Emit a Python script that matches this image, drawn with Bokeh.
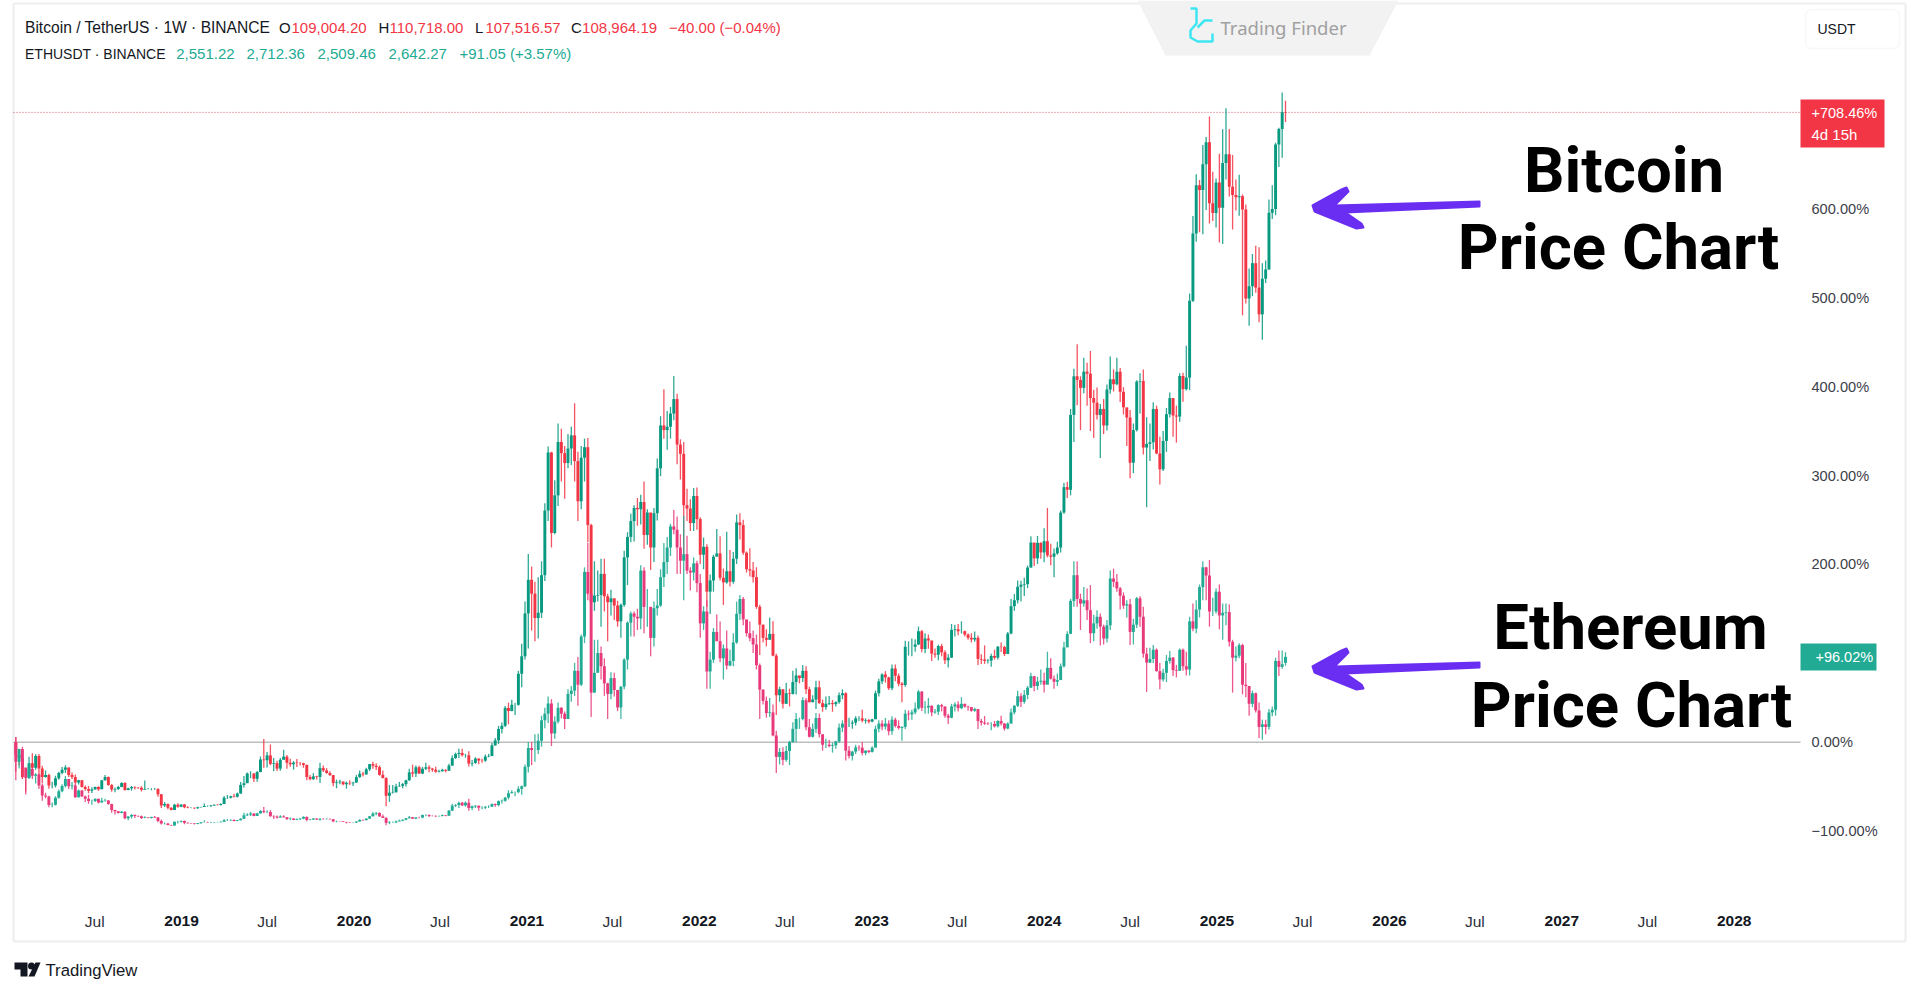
from datetime import date
from bokeh.core.properties import value
from bokeh.embed import file_html
from bokeh.resources import INLINE
from bokeh.plotting import figure
from bokeh.models import (BoxAnnotation, ColumnDataSource, FixedTicker, LinearAxis, Range1d)

# ---------- chart text ----------
title_btc = ["Bitcoin / TetherUS · 1W · BINANCE"]
legend_btc_o = "109,004.20"
legend_btc_h = "110,718.00"
legend_btc_l = "107,516.57"
legend_btc_c = "108,964.19"
legend_btc_chg = "−40.00 (−0.04%)"
title_eth = "ETHUSDT · BINANCE"
legend_eth_vals = ["2,551.22", "2,712.36", "2,509.46", "2,642.27", "+91.05 (+3.57%)"]

year_labels = ["2019", "2020", "2021", "2022", "2023", "2024", "2025", "2026", "2027", "2028"]
year_ticks = ["2019-01-01", "2020-01-01", "2021-01-01", "2022-01-01", "2023-01-01",
              "2024-01-01", "2025-01-01", "2026-01-01", "2027-01-01", "2028-01-01"]
jul_ticks = ["2018-07-01", "2019-07-01", "2020-07-01", "2021-07-01", "2022-07-01",
             "2023-07-01", "2024-07-01", "2025-07-01", "2026-07-01", "2027-07-01"]
pct_ticks = [-100, 0, 200, 300, 400, 500, 600]
pct_labels = ["−100.00%", "0.00%", "200.00%", "300.00%", "400.00%", "500.00%", "600.00%"]

# ---------- weekly candles: first week starts 2018-01-15 ----------
first_week = date(2018, 1, 15)
btc_base = 13478.0
eth_base = 1348.0
btc_last_open = 109004.20
eth_last_open = 2551.22

btc_close = [
 11530,11100,8200,8100,10300,9600,11400,9500,8200,8500,6900,6900,8000,8800,9300,9650,8500,8200,7350,7700,6700,6400,6100,6300,6700,6350,7700,8200,7000,6300,6400,6700,7300,6250,6490,6700,6600,6570,6280,6400,6400,6400,6400,5600,3900,4100,3550,3200,4000,3700,
 4050,3620,3530,3540,3460,3630,3670,3810,3810,3900,4000,3970,4100,5060,5060,5300,5200,5700,7000,7260,8720,8740,7930,8950,10850,10750,11480,10190,10300,9480,10810,11290,10350,10130,10380,10310,10300,10030,8200,7870,8300,8210,9550,9200,8810,8500,7300,7400,7500,7100,7320,7250,7350,
 8180,8700,8600,9370,10150,9900,9700,8530,8040,5360,5820,5880,6770,6860,7120,7700,8900,8720,9680,8720,9450,9670,9470,9300,9000,9070,9300,9160,9930,11070,11680,11850,11500,11500,10250,10330,11000,10700,10680,11300,11370,13000,13760,15480,15960,18680,18200,19150,19150,23860,26500,33000,
 38100,36000,32300,33100,38800,48600,57400,45200,50900,59000,57300,55800,58000,60000,56100,50000,56600,58200,46400,34700,35700,35800,39000,35600,34700,35300,34200,31800,34300,41500,44600,47000,49000,48800,49900,44900,48300,43000,48200,55000,61500,60800,61300,63300,65500,58600,57200,49400,48900,46700,50800,47300,
 41900,43100,36300,38000,41600,42100,38400,37700,39400,37800,41300,46800,46400,42200,39700,39500,38500,34000,31300,29300,29000,29900,26600,20600,21500,19300,20900,20800,22600,23600,23200,24300,21500,19550,19950,21800,19400,18800,19300,19400,19250,19550,20600,20900,16300,16300,16450,17100,17100,16750,16840,16600,
 16950,20900,22700,23750,23300,21650,24650,23550,22350,22150,27950,27950,27950,28300,30300,27600,29200,28900,26900,26750,28050,27100,25900,26300,30500,30600,30300,30300,29800,29300,29050,29300,26100,26000,25800,25850,26550,26300,27950,27900,26850,29950,34100,35000,37050,37350,37450,39950,43750,41350,43700,42250,
 43950,41800,41600,42100,43000,48300,52150,51750,63100,68950,68400,67200,69650,69350,65650,64950,63100,64000,61500,66950,68500,67750,69650,66600,64250,62700,55850,60800,68150,68250,58150,58700,58950,64000,57250,54850,59150,63200,65650,63000,62850,69000,67000,68750,80400,90600,97900,97200,101100,104450,95200,93700,98350,
 94500,101300,102600,97700,96450,96100,96250,94250,80750,82600,86100,82400,78350,83750,85150,93750,94300,104100,106450,109000,108964.19,
]
btc_high = [
 14249,12244,11700,9000,11274,11800,11700,11700,9900,9177,8700,7500,8400,9000,9700,9990,9660,8900,8580,7780,7750,6900,6830,6650,6780,6800,7700,8500,8270,7150,6600,6890,7400,7400,6580,6850,6790,6680,6800,7680,6520,6500,6540,6480,5620,4400,4180,3620,4130,4235,
 4080,4100,3750,3620,3570,3700,3700,4200,3900,3950,4020,4080,4240,5340,5470,5370,5650,5840,7450,8370,8900,9070,8820,9100,11300,13970,12000,13130,11100,10650,11080,12330,11530,10950,10620,10920,10480,10360,10100,8490,8800,8400,10370,9940,9550,9080,8500,7800,7800,7530,7520,7700,7500,
 8500,9190,8990,9600,10190,10500,10300,9960,9190,8180,7000,6980,7190,7460,7300,7780,9460,10070,9950,9890,9740,10380,10000,9590,9770,9300,9450,9340,10200,11450,11900,12480,12480,11720,12090,10780,11200,11000,10950,11600,11720,13350,14100,15960,16480,18960,19480,19920,19420,24300,28400,34800,
 42000,40100,37800,38500,40900,49700,58300,57500,53200,61800,61000,58400,60200,61300,64850,57500,58400,59500,59600,46600,40900,39500,41300,41300,36000,36600,35100,34900,34500,42500,45300,48100,49400,50500,51000,53000,48800,47300,49000,56500,62900,67000,63700,64300,69000,66300,59400,59000,51900,50300,52000,52100,
 47600,44500,43500,38900,41900,45800,44700,39800,45400,42600,42300,48000,48200,47200,42400,42900,40800,40000,34300,31300,30600,32400,31800,26900,21900,21500,22500,21600,24300,24700,23500,25200,25000,21900,20600,22800,22800,19950,20400,20500,19900,19700,21000,21500,21050,17200,16800,17400,17400,18400,17100,17000,
 17050,21300,23100,23950,24250,23400,25250,25250,23900,22600,28850,28750,29200,29100,31000,30500,30000,29800,28300,27700,28250,28400,27400,26800,31400,31300,31400,31800,30400,29950,30000,30250,29650,26800,28150,26100,26900,27500,28050,28600,28100,30200,35200,35950,38000,37950,38400,40250,44700,43450,44750,43800,
 45900,49000,43550,42850,43850,48600,52800,52950,64000,70100,73800,68950,71750,71000,72800,66900,67250,64750,65500,67700,71950,70000,71750,70200,67300,63350,63850,61800,68350,69400,70000,62750,61800,65000,64500,59800,60650,64150,66500,65550,64500,69400,69500,73600,81500,93250,99600,98700,104000,105250,108350,99950,98950,
 102700,106400,109600,106450,102500,98800,99500,96500,95000,85300,87500,88750,88500,86100,86500,95750,97900,104350,106650,111980,110718,
]
btc_low = [
 9035,10000,7900,6000,8000,9300,9300,8400,7300,8100,6430,6500,6600,7800,8600,8800,8200,7900,7080,7050,6600,6100,5750,5780,6300,6070,6330,7650,6880,5970,5880,6230,6650,6100,6200,6100,6300,6400,6000,6300,6360,6200,6280,5200,3500,3650,3300,3150,3180,3550,
 3630,3480,3460,3450,3340,3370,3570,3660,3680,3670,3790,3880,3900,4090,4880,4930,5100,5100,5650,6600,7500,8000,7440,7500,8950,9600,9650,10000,9070,9100,9160,10930,9460,9740,9320,9700,9950,9600,7700,7710,7780,7840,7300,8970,8700,8360,6790,6500,7100,6950,6430,7000,6850,
 7350,8100,8270,8530,9120,9460,9280,8400,8000,3780,4440,5690,5860,6750,6500,6750,7630,8200,8200,8700,8630,9270,8910,8980,8830,8900,9050,8900,9130,9900,10950,11100,11300,11130,9800,9850,10200,10140,10370,10530,11200,11400,12950,13200,14800,15800,16200,18180,17600,19000,21800,26000,
 27700,30400,28800,29200,32300,37900,47000,43000,45000,49300,53000,50400,55000,55500,53000,47000,48800,53000,43800,30000,33400,34800,31000,33300,28800,32700,32000,31000,29300,34000,37300,43800,43900,46300,46500,42800,43400,39600,40800,47100,53800,59500,57800,59500,62300,55600,53300,42000,47000,45500,45500,45700,
 40500,39700,34000,32900,36300,41700,38000,34300,37500,37100,37500,40500,44200,41900,39200,38600,37700,33700,26700,28600,28000,29300,26500,17600,19600,18600,19300,18900,20700,20700,22400,22600,20800,19500,19500,18500,19300,18100,18400,19100,18100,18900,19300,20000,15600,15800,15500,16000,16700,16500,16300,16300,
 16500,17100,20400,22300,22500,21400,21350,22700,21950,19550,21900,26600,26500,27200,28200,27100,26950,27650,25800,26300,25900,26500,25350,24800,26250,29500,29700,29950,29500,29000,28600,28700,25200,25350,25350,25400,24900,26000,26000,27150,26550,26950,29850,33400,34500,34800,35650,36850,39950,40200,40500,41300,
 40750,41500,40300,38500,41900,42250,48100,50500,50900,59000,64550,60800,66400,64500,60650,59600,62400,56550,60200,60750,66300,66650,67600,65050,63150,58400,53500,54250,60600,63300,57100,49100,56100,57850,57150,52550,54600,57500,62700,59800,58900,62050,65100,66800,66850,80200,89350,90800,90500,94150,92100,92500,91500,
 89250,89000,98800,96200,91200,94100,93300,78200,80000,76600,81100,81600,77150,74500,83100,85100,92800,93350,100700,102100,107516,
]
eth_close = [
 1050,1245,965,815,940,840,860,690,540,525,395,400,505,605,685,790,680,690,515,615,525,490,455,455,490,435,460,465,410,320,300,275,295,195,220,245,230,225,200,205,200,215,205,155,115,115,93,85,140,140,
 155,125,118,114,107,120,133,136,129,131,133,136,142,165,165,170,155,165,188,240,250,265,230,268,305,290,290,225,220,205,222,210,185,190,170,180,190,215,170,175,190,175,185,182,185,180,148,150,148,140,132,128,130,
 146,170,165,190,225,265,275,225,200,125,130,130,145,158,172,195,210,188,206,205,245,245,230,228,225,228,240,232,310,385,395,430,390,430,350,375,385,355,355,370,370,410,395,455,460,510,575,590,590,640,680,975,
 1260,1230,1230,1370,1680,1780,1935,1480,1660,1870,1780,1700,2080,2130,2430,2220,2950,3930,3600,2100,2400,2700,2500,2240,2080,2320,2140,1875,2190,2600,3160,3300,3250,3225,3950,3400,3400,2930,3380,3420,3850,4080,4300,4620,4570,4300,4100,4200,3950,3920,4060,3760,
 3150,3330,2420,2600,3020,2880,2620,2770,2510,2580,2860,3295,3520,3210,3000,2925,2830,2515,2145,1975,1790,1800,1450,1125,1200,1080,1215,1350,1550,1700,1700,1985,1575,1430,1550,1715,1470,1310,1310,1290,1300,1360,1570,1630,1220,1140,1205,1270,1265,1185,1220,1200,
 1265,1550,1630,1585,1630,1515,1690,1595,1565,1580,1780,1770,1800,1860,2115,1870,1875,1900,1800,1810,1910,1890,1750,1720,1890,1920,1865,1930,1890,1880,1825,1850,1670,1645,1630,1625,1625,1590,1670,1630,1555,1630,1800,1900,2045,1960,2065,2175,2350,2200,2265,2280,
 2220,2475,2310,2265,2290,2500,2785,2990,3490,3880,3520,3450,3500,3350,3000,3150,3250,3100,2920,3120,3830,3780,3680,3570,3420,3440,3020,3130,3530,3250,2690,2555,2610,2750,2425,2300,2400,2580,2630,2440,2430,2750,2500,2450,3180,3070,3360,3700,4000,3875,3330,3330,3630,
 3270,3310,3320,2870,2630,2660,2820,2220,2200,1930,2090,1830,1580,1620,1580,1800,1840,2580,2490,2530,2642.27,
]
eth_high = [
 1425,1250,1280,905,1020,975,880,870,720,580,535,435,530,630,710,835,790,745,715,630,625,540,550,475,495,490,505,490,470,415,325,300,305,300,225,260,250,235,235,225,210,218,230,215,175,130,120,95,145,157,
 160,160,130,123,118,122,137,165,140,140,137,143,145,185,185,178,180,170,195,280,270,290,270,280,320,365,315,320,240,235,240,240,215,205,195,190,195,225,220,185,200,195,198,195,195,190,180,158,155,152,136,135,135,
 150,180,173,190,228,290,290,285,252,210,150,145,160,175,175,200,228,215,210,218,248,255,250,238,240,235,250,245,320,415,410,445,440,450,490,390,395,385,375,375,390,420,420,465,480,515,620,620,600,680,690,1010,
 1350,1350,1470,1475,1750,1870,2040,2000,1740,1950,1880,1815,2150,2200,2550,2640,2980,4000,4370,3600,2900,2900,2800,2620,2250,2410,2400,2100,2200,2620,3180,3330,3330,3370,4030,4000,3670,3400,3480,3670,3970,4370,4460,4660,4870,4770,4500,4780,4480,4000,4150,4100,
 3900,3410,3500,2720,3080,3285,3180,2830,3040,2750,3000,3480,3580,3550,3200,3180,3040,2980,2540,2150,2040,2020,1920,1520,1260,1270,1290,1370,1650,1790,1720,2030,2020,1700,1630,1790,1785,1400,1400,1380,1340,1370,1630,1680,1680,1290,1220,1310,1300,1350,1225,1230,
 1285,1600,1680,1680,1715,1680,1740,1720,1680,1590,1840,1830,1840,1950,2140,2125,1970,2020,1910,1850,1925,1930,1890,1780,1930,1955,1970,2030,1930,1900,1880,1870,1850,1700,1745,1650,1650,1670,1680,1750,1640,1650,1860,1910,2130,2090,2140,2200,2400,2330,2340,2450,
 2400,2720,2620,2360,2390,2540,2870,3030,3520,4090,4090,3600,3700,3680,3730,3280,3350,3300,3130,3200,3950,3980,3900,3700,3620,3500,3520,3220,3550,3560,3400,2780,2780,2820,2770,2550,2460,2670,2730,2640,2520,2770,2770,2720,3250,3450,3500,3740,4090,4010,4110,3540,3680,
 3740,3450,3450,3440,2900,2800,2850,2840,2550,2030,2130,2100,1950,1690,1690,1850,1890,2630,2740,2740,2712,
]
eth_low = [
 772,950,800,555,790,790,720,640,460,500,360,360,390,490,590,660,640,630,505,510,520,440,415,400,440,420,435,445,400,280,250,265,270,180,165,190,200,215,185,195,195,190,200,135,100,100,88,82,83,115,
 130,105,115,110,100,103,117,130,128,122,125,130,130,140,155,155,150,150,160,185,230,230,225,230,265,270,270,220,185,190,205,205,170,165,165,165,170,180,150,165,170,170,158,175,178,175,135,135,144,138,116,122,125,
 126,143,153,163,185,220,242,215,218,90,105,125,125,155,150,165,190,185,180,195,195,225,215,225,215,222,225,225,235,305,365,350,380,370,310,320,350,310,330,335,350,365,370,375,420,445,480,570,530,575,550,665,
 890,1000,1050,1170,1280,1560,1640,1290,1400,1630,1710,1550,1700,1960,2050,1900,2200,2850,3500,1730,2100,2500,2300,2050,1700,2000,2040,1820,1700,2150,2450,2950,2950,3050,3060,3000,3100,2650,2800,3270,3400,3700,3900,4170,4500,3900,3900,3500,3900,3650,3800,3620,
 2930,3050,2160,2160,2550,2880,2560,2300,2450,2500,2500,2840,3200,3120,2950,2880,2700,2450,1700,1920,1720,1730,1440,880,1010,1000,1050,1000,1340,1350,1550,1680,1530,1420,1420,1490,1420,1220,1260,1270,1190,1250,1340,1500,1070,1100,1070,1170,1220,1150,1150,1180,
 1190,1280,1500,1530,1540,1455,1460,1570,1540,1370,1550,1680,1690,1770,1840,1820,1780,1780,1740,1780,1760,1815,1720,1625,1710,1815,1815,1850,1870,1825,1810,1810,1550,1600,1610,1610,1530,1570,1570,1600,1525,1545,1630,1770,1880,1880,1930,2000,2170,2120,2140,2220,
 2100,2240,2300,2160,2200,2290,2480,2850,3000,3400,3400,3050,3400,3200,2850,2880,3070,2815,2830,2860,3050,3700,3630,3360,3370,3240,2820,2830,3080,3100,2630,2110,2550,2550,2420,2150,2270,2260,2540,2350,2330,2440,2430,2360,2360,3030,3000,3240,3500,3500,3100,3260,3300,
 3060,2900,3120,2800,2100,2570,2620,2075,2030,1750,1880,1800,1410,1385,1470,1540,1740,1750,2350,2460,2509,
]
for name, arr in [("btc_close", btc_close), ("btc_high", btc_high), ("btc_low", btc_low),
                  ("eth_close", eth_close), ("eth_high", eth_high), ("eth_low", eth_low)]:
    assert len(arr) == 385, (name, len(arr))

# ---------- scales: px in the 1919x996 picture -> data ----------
WEEK_PX = 3.3065
DAY_PX = WEEK_PX / 7
PCT_PX = 0.889
W, H = 1911, 988
OX, OY = 0, 0
X0_REAL, Y0_REAL = 15.3, 741.7
def px(x):  # picture x -> days since first week
    return (x - X0_REAL) / DAY_PX
def py(y):  # picture y -> percent
    return (Y0_REAL - y) / PCT_PX
def days(s):
    y, m, d = map(int, s.split("-"))
    return (date(y, m, d) - first_week).days

p = figure(width=W, height=H, output_backend="svg", toolbar_location=None,
           x_axis_location=None, y_axis_location=None, min_border=0,
           x_range=Range1d(px(OX), px(OX + W)), y_range=Range1d(py(OY + H), py(OY)),
           outline_line_color=None, background_fill_color="white", border_fill_color="white")
p.grid.visible = False

FONT = "Liberation Sans"
BIG_FONT = "Roboto"
UP_B, DOWN_B, UP_E, DOWN_E = "#089981", "#F23645", "#22AB94", "#E8397A"

def candles(close, high, low, base, last_open, up, down):
    opens = [base] + list(close[:-1])
    opens[-1] = last_open
    pct = lambda v: (v / base - 1) * 100
    return ColumnDataSource(dict(
        x=[7 * i for i in range(len(close))],
        o=[pct(v) for v in opens], c=[pct(v) for v in close],
        h=[pct(v) for v in high], l=[pct(v) for v in low],
        color=[up if c >= o else down for o, c in zip(opens, close)]))

# frame
frame_c = "#eeeeee"
p.multi_line(xs=[[px(13), px(13)], [px(1905), px(1905)], [px(13), px(1905)], [px(13), px(1905)]],
             ys=[[py(3), py(941)], [py(3), py(941)], [py(941), py(941)], [py(3), py(3)]],
             line_color=frame_c, line_width=2)

# watermark panel
p.patch(x=[px(1137), px(1398), px(1369), px(1165)], y=[py(0), py(0), py(55), py(55)],
        fill_color="#f2f2f2", line_color=None)
p.multi_line(xs=[[px(1190), px(1196), px(1196), px(1190), px(1190), px(1197), px(1212), px(1212)],
                 [px(1212), px(1204), px(1197)]],
             ys=[[py(8), py(8), py(23), py(30), py(37), py(41), py(41), py(33)],
                 [py(20), py(20), py(27)]],
             line_color="#3ee6f2", line_width=2.5)

# USDT button
p.add_layout(BoxAnnotation(left=px(1805), right=px(1899), top=py(9), bottom=py(48), fill_color="white",
                           fill_alpha=1, line_color="#e8e8e8", line_width=1.5, border_radius=6,
                           level="underlay"))
# last value and zero lines
p.line(x=[px(13), px(1800)], y=[0, 0], line_color="#bdbdbd", line_width=1.6)
p.line(x=[px(13), px(1800)], y=[708.46, 708.46], line_color="#D8566C", line_width=1, line_dash=[1, 2])

# candles
for src in [candles(btc_close, btc_high, btc_low, btc_base, btc_last_open, UP_B, DOWN_B),
            candles(eth_close, eth_high, eth_low, eth_base, eth_last_open, UP_E, DOWN_E)]:
    p.segment(x0="x", x1="x", y0="l", y1="h", source=src, line_color="color", line_width=1.3, line_alpha=0.85)
    p.vbar(x="x", width=6.2, top="o", bottom="c", source=src, fill_color="color", line_color=None)

# axes
ax_year = LinearAxis(fixed_location=py(909), ticker=FixedTicker(ticks=[days(s) for s in year_ticks]),
                     major_label_overrides={days(s): t for s, t in zip(year_ticks, year_labels)})
ax_jul = LinearAxis(fixed_location=py(906.5), ticker=FixedTicker(ticks=[days(s) for s in jul_ticks]),
                    major_label_overrides={days(s): "Jul" for s in jul_ticks})
ax_pct = LinearAxis(fixed_location=px(1805), ticker=FixedTicker(ticks=pct_ticks),
                    major_label_overrides=dict(zip(pct_ticks, pct_labels)))
for ax, col, style, size in [(ax_year, "#131722", "bold", "15.5px"), (ax_jul, "#2a2e39", "normal", "15.5px"),
                             (ax_pct, "#3c404a", "normal", "14.6px")]:
    ax.axis_line_color = None
    ax.major_tick_line_color = None
    ax.minor_tick_line_color = None
    ax.major_label_standoff = 0
    ax.major_label_text_font = FONT
    ax.major_label_text_font_size = size
    ax.major_label_text_font_style = style
    ax.major_label_text_color = col
    ax.major_label_text_baseline = "middle"
ax_pct.major_label_text_align = "left"
p.add_layout(ax_year, "below")
p.add_layout(ax_jul, "below")
p.add_layout(ax_pct, "right")

# badges
p.quad(left=[px(1800), px(1800)], right=[px(1884), px(1876)], top=[py(99), py(643)], bottom=[py(147), py(670)],
       fill_color=["#F23645", "#22AB94"], line_color=None)
def label(x, y, txt, color="#131722", size="15px", align="left", font=FONT, style="normal"):
    p.text(x=[px(x)], y=[py(y)], text=[txt], text_color=color, text_font_size=size, text_font=value(font),
           text_align=align, text_baseline="middle", text_font_style=style)
label(1811, 112, "+708.46%", "white", "14.5px")
label(1811, 134, "4d 15h", "white")
label(1815, 656.5, "+96.02%", "white", "14.5px")
label(1817, 28, "USDT", "#131722", "14px")
label(1220, 27, "Trading Finder", "#a0a0a0", "18.5px", font="Noto Sans")

# legend
RED, GREEN = "#F23645", "#22AB94"
label(24.5, 27, title_btc[0], size="15.6px")
for x, t, c in [(278.6, "O", "#131722"), (291, legend_btc_o, RED), (378, "H", "#131722"), (389, legend_btc_h, RED),
                (474.5, "L", "#131722"), (485, legend_btc_l, RED), (570.6, "C", "#131722"), (581.6, legend_btc_c, RED),
                (668.5, legend_btc_chg, RED)]:
    label(x, 27, t, c)
label(24.5, 53, title_eth, size="14px")
for x, t in zip([175.7, 246, 317, 388, 459], legend_eth_vals):
    label(x, 53, t, GREEN)

# big captions
BIG = dict(color="black", size="63.5px", align="center", font=BIG_FONT, style="bold")
label(1623.6, 170, "Bitcoin", **BIG)
label(1618, 247, "Price Chart", **BIG)
label(1630, 627, "Ethereum", **BIG)
label(1631, 704.5, "Price Chart", **BIG)

# arrows
PURPLE = "#6A2EF2"
arrow_x = [1479, 1479, 1345, 1361, 1363, 1356, 1314, 1312, 1341, 1346, 1348, 1334]
arrow_y = [201, 206, 212, 223, 227, 228, 211, 205, 189, 187, 191, 205]
for dy in [0, 461]:
    p.patch(x=[px(v) for v in arrow_x], y=[py(v + dy) for v in arrow_y], fill_color=PURPLE,
            line_color=PURPLE, line_width=2, line_join="round")

# footer
p.patch(x=[px(v) for v in [14, 27, 27, 20, 20, 14]], y=[py(v) for v in [962, 962, 976, 976, 969, 969]],
        fill_color="#131722", line_color=None)
p.scatter(x=[px(31)], y=[py(965.5)], size=7, marker="circle", fill_color="#131722", line_color=None)
p.patch(x=[px(v) for v in [35, 40, 34, 28]], y=[py(v) for v in [962, 962, 976, 976]],
        fill_color="#131722", line_color=None)
label(45, 970, "TradingView", "#131722", "16.7px")

open("out.html", "w").write(file_html(p, INLINE))
